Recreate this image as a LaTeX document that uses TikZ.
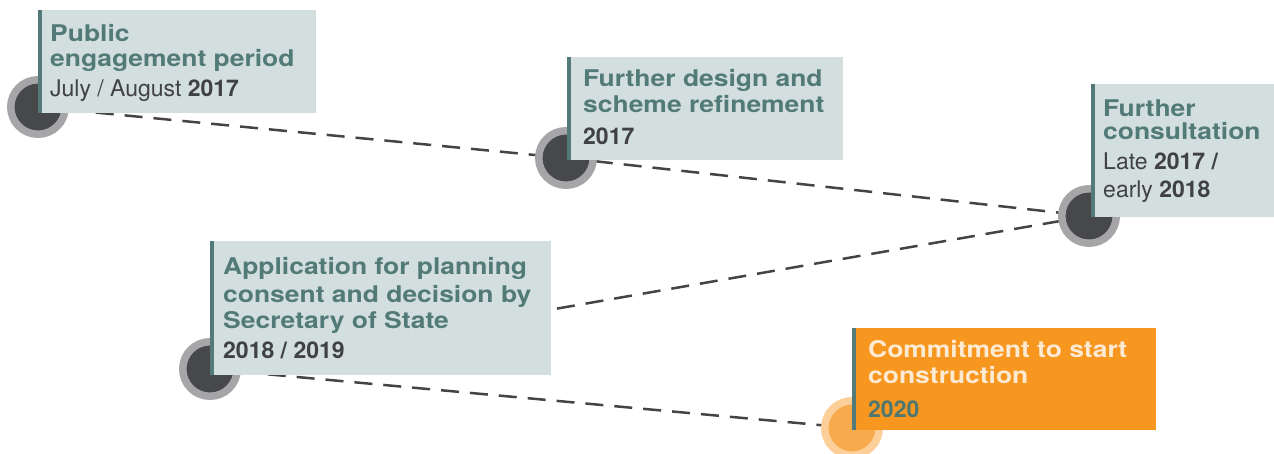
\documentclass[tikz,border=0pt]{standalone}
\usepackage{fontspec}
\setmainfont{TeX Gyre Heros}
\newfontfamily\titlefont{TeX Gyre Heros}[FakeStretch=1.15]
\usetikzlibrary{backgrounds}
\definecolor{cardfill}{HTML}{D3DFDF}
\definecolor{barteal}{HTML}{537A78}
\definecolor{titleteal}{HTML}{527A77}
\definecolor{datedark}{HTML}{404142}
\definecolor{ringgray}{HTML}{A6A6A8}
\definecolor{dotdark}{HTML}{47484A}
\definecolor{linegray}{HTML}{444444}
\definecolor{cardorange}{HTML}{F7971F}
\definecolor{ringorange}{HTML}{FDCF98}
\definecolor{dotorange}{HTML}{F7AB4D}
\definecolor{titlecream}{HTML}{FDEAD3}
\definecolor{yearteal}{HTML}{4E7772}
\begin{document}
\begin{tikzpicture}[x=1pt,y=-1pt,
  conn/.style={draw=linegray, line width=2.5pt, dash pattern=on 18pt off 11pt},
  dot/.style={circle, draw=ringgray, fill=dotdark, line width=7.5pt, minimum size=54.5pt, inner sep=0pt},
  odot/.style={dot, draw=ringorange, fill=dotorange},
  card/.style={rectangle, fill=cardfill, inner sep=0pt, anchor=north west},
  ocard/.style={card, fill=cardorange},
  bar/.style={fill=barteal},
  ttl/.style={anchor=base west, inner sep=0pt, font=\titlefont\fontsize{23}{26}\selectfont\bfseries, text=titleteal},
  ottl/.style={ttl, text=titlecream},
  dt/.style={anchor=base west, inner sep=0pt, font=\fontsize{23}{26}\selectfont, text=datedark},
  ]
\useasboundingbox (0,0) rectangle (1274,454);

% circles
\node[dot] (c1) at (38,107) {};
\node[dot] (c2) at (566,158) {};
\node[dot] (c3) at (1089,216) {};
\node[dot] (c4) at (210,369) {};
\node[odot] (c5) at (852,428) {};

% connectors
\begin{scope}[on background layer]
\draw[conn] (c1.center) -- (c2.center);
\draw[conn] (c2.center) -- (c3.center);
\draw[conn] (c3.center) -- (c4.center);
\draw[conn] (c4.center) -- (c5.center);
\end{scope}

% cards
\node[card, minimum width=278pt, minimum height=103pt] (b1) at (38,10) {};
\fill[bar] (b1.north west) rectangle ([xshift=4pt]b1.south west);
\node[card, minimum width=276pt, minimum height=103pt] (b2) at (567,57) {};
\fill[bar] (b2.north west) rectangle ([xshift=4pt]b2.south west);
\node[card, minimum width=183pt, minimum height=133pt] (b3) at (1091,84) {};
\fill[bar] (b3.north west) rectangle ([xshift=4pt]b3.south west);
\node[card, minimum width=341pt, minimum height=134pt] (b4) at (210,241) {};
\fill[bar] (b4.north west) rectangle ([xshift=4pt]b4.south west);
\node[ocard, minimum width=304pt, minimum height=102pt] (b5) at (852,328) {};
\fill[bar] (b5.north west) rectangle ([xshift=4pt]b5.south west);

% texts
\node[ttl] (t1a) at (50,41.7) {Public};
\node[ttl] (t1b) at (50,66.7) {engagement period};
\node[dt]  (t1c) at (50,96.7) {July / August \textbf{2017}};

\node[ttl] (t2a) at (583,86.7) {Further design and};
\node[ttl] (t2b) at (583,113) {scheme refinement};
\node[dt]  (t2c) at (583,145) {\textbf{2017}};

\node[ttl] (t3a) at (1103,117) {Further};
\node[ttl] (t3b) at (1103,140) {consultation};
\node[dt]  (t3c) at (1103,170) {Late \textbf{2017 /}};
\node[dt]  (t3d) at (1103,198) {early \textbf{2018}};

\node[ttl] (t4a) at (223,275) {Application for planning};
\node[ttl] (t4b) at (223,302) {consent and decision by};
\node[ttl] (t4c) at (223,328) {Secretary of State};
\node[dt]  (t4d) at (223,358) {\textbf{2018 / 2019}};

\node[ottl] (t5a) at (868,357) {Commitment to start};
\node[ottl] (t5b) at (868,383) {construction};
\node[dt, text=yearteal] (t5c) at (868,417) {\textbf{2020}};
\end{tikzpicture}
\end{document}
